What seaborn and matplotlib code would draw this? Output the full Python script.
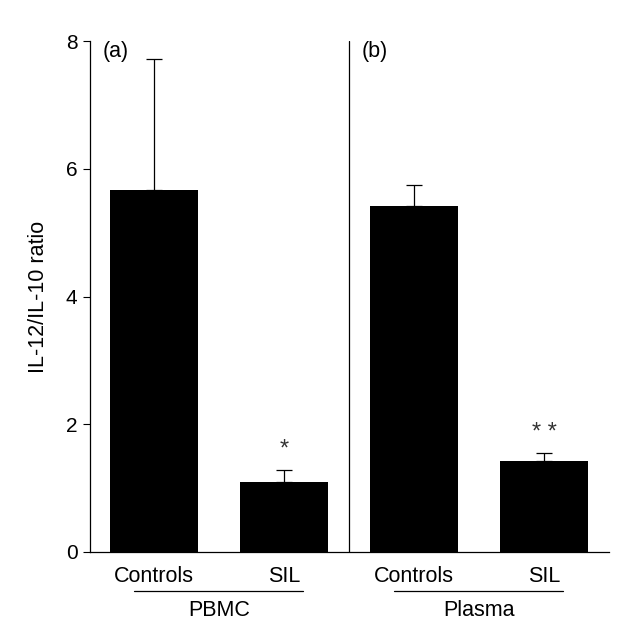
import numpy as np
import pandas as pd
import matplotlib
matplotlib.use('Agg')
import matplotlib.pyplot as plt
import matplotlib.transforms as mtransforms
import seaborn as sns

# данные
groups = ['PBMC', 'PBMC', 'Plasma', 'Plasma']
categories = ['Controls', 'SIL', 'Controls', 'SIL']
ratio_mean = [5.66, 1.09, 5.41, 1.43]
ratio_err = [2.06, 0.20, 0.34, 0.12]
stars = ['', '*', '', '* *']
panel_labels = ['(a)', '(b)']
y_ticks = [0, 2, 4, 6, 8]

sns.set_style('ticks')
plt.rcParams['font.family'] = ['Liberation Sans', 'DejaVu Sans']
plt.rcParams['text.color'] = 'black'
plt.rcParams['axes.labelcolor'] = 'black'
plt.rcParams['xtick.color'] = 'black'
plt.rcParams['ytick.color'] = 'black'
plt.rcParams['axes.edgecolor'] = 'black'

df = pd.DataFrame({
    'key': [f'{g} {c}' for g, c in zip(groups, categories)],
    'ratio': ratio_mean,
})

fig = plt.figure(figsize=(6.19, 6.32), dpi=100)
ax = fig.add_axes([0.1454, 0.1266, 0.8384, 0.8085])

sns.barplot(data=df, x='key', y='ratio', color='black', saturation=1,
            width=0.68, edgecolor='black', linewidth=0, errorbar=None, ax=ax)

xpos = np.arange(len(df))
ax.errorbar(xpos, ratio_mean, yerr=[np.zeros(len(df)), ratio_err], fmt='none',
            ecolor='black', elinewidth=0.9, capsize=5.8, capthick=0.9, zorder=3)

# звёздочки
for x, m, e, s in zip(xpos, ratio_mean, ratio_err, stars):
    if s:
        ax.text(x, m + e + 0.14, s, ha='center', va='bottom', fontsize=17,
                color='#333333')

ax.set_xlim(-0.49, 3.5)
ax.set_ylim(0, 8)
ax.set_yticks(y_ticks)
ax.set_xticks(xpos)
ax.set_xticklabels(categories, fontsize=15.5)
ax.tick_params(axis='y', labelsize=15, length=5, width=0.8, pad=4)
ax.tick_params(axis='x', length=0, pad=10)
ax.set_xlabel('')
ax.set_ylabel('IL-12/IL-10 ratio', fontsize=15.5, labelpad=12)

sns.despine(ax=ax)
for sp in ['left', 'bottom']:
    ax.spines[sp].set_linewidth(0.9)

# разделитель панелей
ax.axvline(1.505, ymin=0, ymax=1, color='black', lw=0.9)

ax.text(-0.39, 7.83, panel_labels[0], fontsize=15.5, va='center')
ax.text(1.60, 7.83, panel_labels[1], fontsize=15.5, va='center')

# подписи групп
trans = mtransforms.blended_transform_factory(ax.transData, ax.transAxes)
for g in ['PBMC', 'Plasma']:
    idx = [i for i, gg in enumerate(groups) if gg == g]
    c = np.mean(idx)
    ax.plot([c - 0.65, c + 0.65], [-0.076, -0.076], color='black', lw=0.9,
            transform=trans, clip_on=False)
    ax.text(c, -0.114, g, ha='center', va='center', fontsize=15.5, transform=trans)

fig.savefig('out.png', dpi=100)
